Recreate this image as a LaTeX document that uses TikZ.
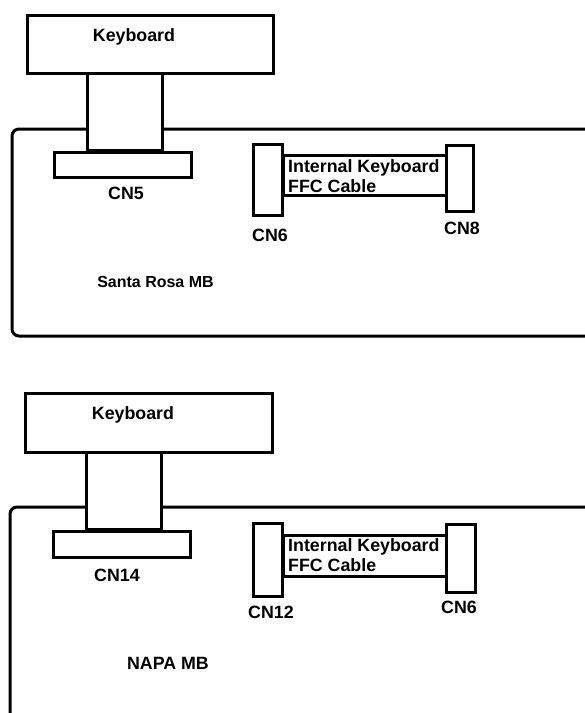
\documentclass[tikz,border=0pt]{standalone}
\usepackage{fontspec}
\setmainfont{Liberation Sans}
\begin{document}
\begin{tikzpicture}[x=1pt,y=-1pt,
  box/.style={draw=black,line width=3pt,fill=white,inner sep=0pt,outer sep=0pt},
  lbl/.style={font=\fontsize{17.8}{20}\selectfont\bfseries,inner sep=0pt},
  mb/.style={draw=black,line width=3pt,rounded corners=7pt}]
\useasboundingbox (0,0) rectangle (585,713);
% ---------------- Top: Santa Rosa ----------------
\draw[mb] (590,129) -- (12,129) -- (12,336) -- (590,336);
\node[box,minimum width=246pt,minimum height=58pt] (kb1) at (150,44) {};
\node[box,minimum width=75pt,minimum height=77pt] (st1) at (125,112) {};
\node[box,minimum width=137pt,minimum height=25pt] (cn5) at (123,165) {};
\node[box,minimum width=163pt,minimum height=40pt] (cab1) at (364.5,175) {};
\node[box,minimum width=29pt,minimum height=71pt] (cn6a) at (268,179.5) {};
\node[box,minimum width=27pt,minimum height=66pt] (cn8) at (460,178) {};
\node[lbl] (kbt1) at (134,37) {Keyboard};
\node[lbl] (cn5t) at (126,193) {CN5};
\node[lbl] (cn6at) at (270,235) {CN6};
\node[lbl] (cn8t) at (462,228) {CN8};
\node[lbl,align=left,anchor=west] (cab1t) at (288,176) {Internal Keyboard\\FFC Cable};
\node[lbl,font=\fontsize{16}{20}\selectfont\bfseries] (mb1t) at (155.5,282) {Santa Rosa MB};
% ---------------- Bottom: NAPA ----------------
\draw[mb] (590,507) -- (10,507) -- (10,720);
\node[box,minimum width=246.5pt,minimum height=59pt] (kb2) at (149,422.5) {};
\node[box,minimum width=75pt,minimum height=77pt] (st2) at (124,491) {};
\node[box,minimum width=137pt,minimum height=26pt] (cn14) at (122,544) {};
\node[box,minimum width=163pt,minimum height=41pt] (cab2) at (364.5,555.5) {};
\node[box,minimum width=29pt,minimum height=73pt] (cn12) at (267.5,559.5) {};
\node[box,minimum width=29pt,minimum height=68pt] (cn6b) at (460.5,558) {};
\node[lbl] (kbt2) at (133,415) {Keyboard};
\node[lbl] (cn14t) at (117,575) {CN14};
\node[lbl] (cn12t) at (271,612) {CN12};
\node[lbl] (cn6bt) at (459,607) {CN6};
\node[lbl,align=left,anchor=west] (cab2t) at (288,555) {Internal Keyboard\\FFC Cable};
\node[lbl] (mb2t) at (168,663) {NAPA MB};
\end{tikzpicture}
\end{document}
